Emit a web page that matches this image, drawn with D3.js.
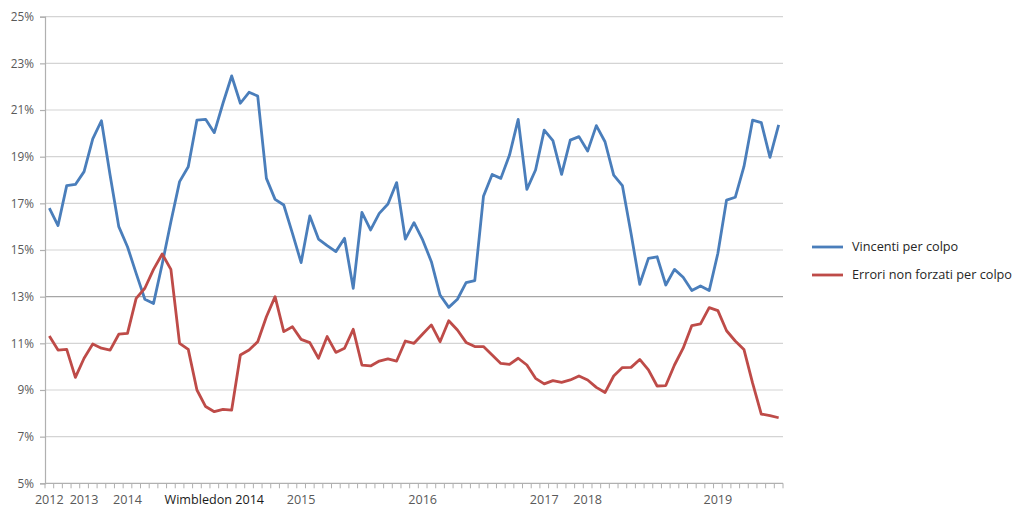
<!DOCTYPE html>
<html>
<head>
<meta charset="utf-8">
<script src="https://cdn.jsdelivr.net/npm/d3@7"></script>
<style>
  html, body { margin: 0; padding: 0; background: #ffffff; }
  svg { display: block; }
  text { font-family: "Open Sans", "Noto Sans", sans-serif; }
</style>
</head>
<body>
<svg id="chart" width="1024" height="517"></svg>
<script>
// ---- data ----
const vincenti = [
  16.8, 16.05, 17.76, 17.81, 18.36, 19.76, 20.54, 18.2, 16.0, 15.14,
  14.0, 12.89, 12.71, 14.4, 16.21, 17.93, 18.57, 20.57, 20.6, 20.03,
  21.29, 22.46, 21.29, 21.76, 21.6, 18.07, 17.17, 16.93, 15.71, 14.46,
  16.46, 15.47, 15.19, 14.93, 15.5, 13.36, 16.61, 15.86, 16.57, 16.97,
  17.89, 15.47, 16.17, 15.43, 14.5, 13.07, 12.54, 12.89, 13.6, 13.69,
  17.3, 18.24, 18.07, 19.07, 20.6, 17.6, 18.43, 20.14, 19.69, 18.24,
  19.71, 19.86, 19.24, 20.33, 19.64, 18.21, 17.76, 15.71, 13.53, 14.64,
  14.71, 13.5, 14.17, 13.83, 13.26, 13.46, 13.26, 14.86, 17.14, 17.26,
  18.57, 20.57, 20.46, 18.97, 20.36
];
const errori = [
  11.31, 10.71, 10.74, 9.54, 10.36, 10.97, 10.79, 10.71, 11.39, 11.43,
  12.93, 13.36, 14.17, 14.83, 14.17, 11.0, 10.74, 9.0, 8.29, 8.07,
  8.17, 8.14, 10.5, 10.71, 11.07, 12.14, 13.0, 11.5, 11.71, 11.17,
  11.03, 10.36, 11.29, 10.61, 10.79, 11.6, 10.07, 10.03, 10.24, 10.33,
  10.24, 11.1, 11.0, 11.4, 11.79, 11.07, 11.97, 11.57, 11.04, 10.86,
  10.86, 10.5, 10.14, 10.1, 10.36, 10.07, 9.5, 9.26, 9.4, 9.33,
  9.43, 9.6, 9.43, 9.11, 8.89, 9.6, 9.96, 9.97, 10.31, 9.86,
  9.17, 9.19, 10.07, 10.79, 11.76, 11.83, 12.53, 12.4, 11.54, 11.1,
  10.74, 9.29, 7.97, 7.9, 7.81
];
const categories = d3.range(vincenti.length);
const labelIndex = [0, 4, 9, 19, 29, 43, 57, 62, 77];
const labelText = ["2012", "2013", "2014", "Wimbledon 2014", "2015", "2016", "2017", "2018", "2019"];
const yTicks = [5, 7, 9, 11, 13, 15, 17, 19, 21, 23, 25];
const seriesNames = ["Vincenti per colpo", "Errori non forzati per colpo"];
const seriesColors = ["#4a7ebb", "#be4b48"];

// ---- layout ----
const plotLeft = 45, plotRight = 783, plotTop = 16.7, plotBottom = 483.3;
const svg = d3.select("#chart");

const x = d3.scaleBand().domain(categories).range([plotLeft, plotRight]).paddingInner(0).paddingOuter(0);
const y = d3.scaleLinear().domain([5, 25]).range([plotBottom, plotTop]);

// gridlines
svg.append("g").selectAll("line").data(yTicks.filter(d => d !== 5)).join("line")
  .attr("x1", plotLeft).attr("x2", plotRight)
  .attr("y1", d => y(d)).attr("y2", d => y(d))
  .attr("stroke", d => d === 13 ? "#a6a6a6" : "#d4d4d4")
  .attr("stroke-width", 1.2);

// y axis
const yAxis = d3.axisLeft(y).tickValues(yTicks).tickSize(5).tickFormat(d => d + "%");
const gy = svg.append("g").attr("transform", `translate(${plotLeft},0)`).call(yAxis);
gy.select(".domain").attr("stroke", "#b0b0b0").attr("stroke-width", 1.2);
gy.selectAll(".tick line").attr("stroke", "#b0b0b0").attr("stroke-width", 1.2);
gy.selectAll(".tick text").attr("fill", "#595959").attr("font-size", 11.8)
  .attr("x", -11).attr("font-family", "'Open Sans', 'Noto Sans', sans-serif");

// x axis: line + ticks at band boundaries
const gx = svg.append("g");
gx.append("line").attr("x1", plotLeft).attr("x2", plotRight).attr("y1", plotBottom).attr("y2", plotBottom)
  .attr("stroke", "#b0b0b0").attr("stroke-width", 1.2);
const boundaries = categories.map(c => x(c)).concat([plotRight]);
gx.selectAll("line.tk").data(boundaries).join("line").attr("class", "tk")
  .attr("x1", d => d).attr("x2", d => d)
  .attr("y1", plotBottom).attr("y2", plotBottom + 5)
  .attr("stroke", "#b0b0b0").attr("stroke-width", 1);
gx.selectAll("text").data(labelIndex).join("text")
  .attr("x", (d) => x(d) + x.bandwidth() / 2)
  .attr("y", 504)
  .attr("text-anchor", "middle")
  .attr("font-size", 12.6)
  .attr("fill", (d, i) => labelText[i].startsWith("Wimbledon") ? "#1a1a1a" : "#595959")
  .text((d, i) => labelText[i]);

// lines
const line = d3.line()
  .x((d, i) => x(i) + x.bandwidth() / 2)
  .y(d => y(d));
[vincenti, errori].forEach((s, k) => {
  svg.append("path").datum(s)
    .attr("fill", "none")
    .attr("stroke", seriesColors[k])
    .attr("stroke-width", 2.8)
    .attr("stroke-linejoin", "round")
    .attr("d", line);
});

// legend
const lg = svg.append("g");
seriesNames.forEach((n, k) => {
  const ly = 247 + k * 28;
  lg.append("line").attr("x1", 812).attr("x2", 843).attr("y1", ly).attr("y2", ly)
    .attr("stroke", seriesColors[k]).attr("stroke-width", 2.8);
  lg.append("text").attr("x", 852).attr("y", ly).attr("dy", "0.35em")
    .attr("font-size", 12.7).attr("fill", "#262626").text(n);
});
</script>
</body>
</html>
